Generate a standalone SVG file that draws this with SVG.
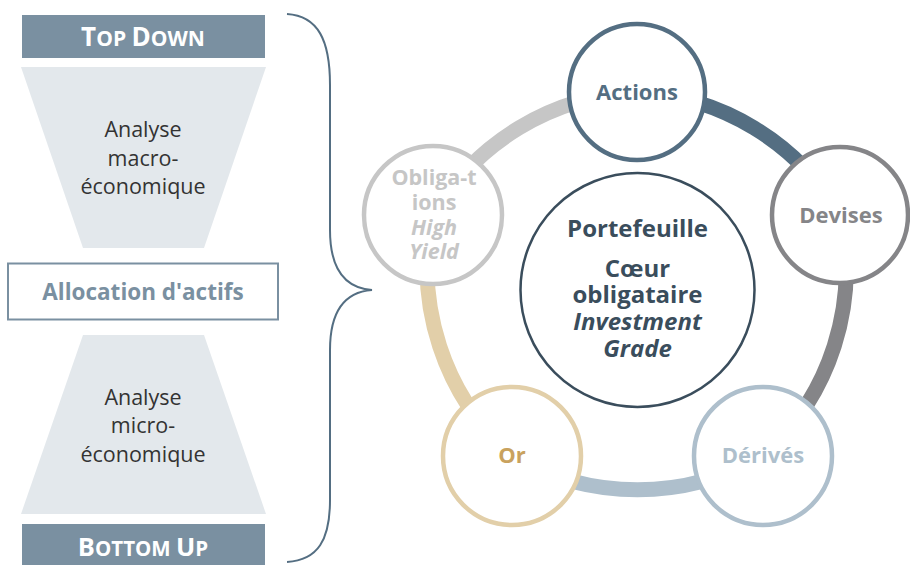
<svg xmlns="http://www.w3.org/2000/svg" width="910" height="565" viewBox="0 0 910 565">
<style>
text{font-family:"Open Sans","Noto Sans","Liberation Sans",sans-serif;text-anchor:middle}
.hdr{fill:#7a90a1}
.hdrt{fill:#ffffff;font-weight:bold}
.trap{fill:#e3e8ec}
.ana{fill:#333333;font-size:21.5px}
.node{fill:#ffffff;stroke-width:4.5}
.lbl{font-weight:bold;font-size:22px}
.hy{font-weight:bold;font-size:21.5px;fill:#c6c6c6}
.arc{fill:none;stroke-width:15}
.ctr{fill:#3a4d5c;font-weight:bold;font-size:24px}
</style>
<rect width="910" height="565" fill="#ffffff"/>
<g id="top-down">
<rect class="hdr" x="22" y="15" width="243" height="43"/>
<text class="hdrt" x="143" y="46"><tspan font-size="26">T</tspan><tspan font-size="21">OP </tspan><tspan font-size="26">D</tspan><tspan font-size="21">OWN</tspan></text>
</g>
<g id="macro">
<polygon class="trap" points="21,67 266,67 204,248 83,248"/>
<text class="ana" x="143" y="137">Analyse</text>
<text class="ana" x="143" y="166">macro-</text>
<text class="ana" x="143" y="194">économique</text>
</g>
<g id="allocation">
<rect x="8" y="263.5" width="270" height="56" fill="#ffffff" stroke="#7a90a1" stroke-width="2"/>
<text x="143" y="300" fill="#7a90a1" font-weight="bold" font-size="22.5">Allocation d'actifs</text>
</g>
<g id="micro">
<polygon class="trap" points="83,335 204,335 266,514 21,514"/>
<text class="ana" x="143" y="405">Analyse</text>
<text class="ana" x="143" y="433">micro-</text>
<text class="ana" x="143" y="462">économique</text>
</g>
<g id="bottom-up">
<rect class="hdr" x="22" y="524" width="243" height="45"/>
<text class="hdrt" x="143" y="556"><tspan font-size="25.5">B</tspan><tspan font-size="20.5">OTTOM </tspan><tspan font-size="25.5">U</tspan><tspan font-size="20.5">P</tspan></text>
</g>
<g id="brace">
<path d="M287,14 C318,16 330,40 330,85 L330,230 C330,270 345,288 372,290 C345,292 330,310 330,350 L330,500 C330,540 318,560 287,562" fill="none" stroke="#546e82" stroke-width="2"/>
</g>
<g id="connectors">
<path class="arc" stroke="#546e82" d="M637,92 A250,250 0 0 1 840,215"/>
<path class="arc" stroke="#858588" d="M840,215 A250,250 0 0 1 763,456"/>
<path class="arc" stroke="#aebfcc" d="M763,456 A250,250 0 0 1 512,456"/>
<path class="arc" stroke="#e2cfa9" d="M512,456 A250,250 0 0 1 433,215"/>
<path class="arc" stroke="#c6c6c6" d="M433,215 A250,250 0 0 1 637,92"/>
</g>
<g id="portefeuille">
<circle cx="637.5" cy="290" r="117" fill="#ffffff" stroke="#3a4d5c" stroke-width="2.5"/>
<text class="ctr" x="637.5" y="237">Portefeuille</text>
<text class="ctr" x="637.5" y="277">Cœur</text>
<text class="ctr" x="637.5" y="303">obligataire</text>
<text class="ctr" x="637.5" y="330" font-style="italic">Investment</text>
<text class="ctr" x="637.5" y="357" font-style="italic">Grade</text>
</g>
<g id="actions">
<circle class="node" cx="637" cy="92" r="68" stroke="#546e82"/>
<text class="lbl" x="637" y="100" fill="#546e82">Actions</text>
</g>
<g id="devises">
<circle class="node" cx="840" cy="215" r="68" stroke="#858588"/>
<text class="lbl" x="841" y="223" fill="#858588">Devises</text>
</g>
<g id="derives">
<circle class="node" cx="763" cy="456" r="69" stroke="#aebfcc"/>
<text class="lbl" x="763" y="463" fill="#aebfcc">Dérivés</text>
</g>
<g id="or">
<circle class="node" cx="512" cy="456" r="69" stroke="#e2cfa9"/>
<text class="lbl" x="512" y="463" fill="#c9a25e">Or</text>
</g>
<g id="high-yield">
<circle class="node" cx="433" cy="215" r="69" stroke="#c6c6c6"/>
<text class="hy" x="434" y="185">Obliga-t</text>
<text class="hy" x="434" y="210">ions</text>
<text class="hy" x="434" y="235" font-style="italic">High</text>
<text class="hy" x="434" y="259" font-style="italic">Yield</text>
</g>
</svg>
